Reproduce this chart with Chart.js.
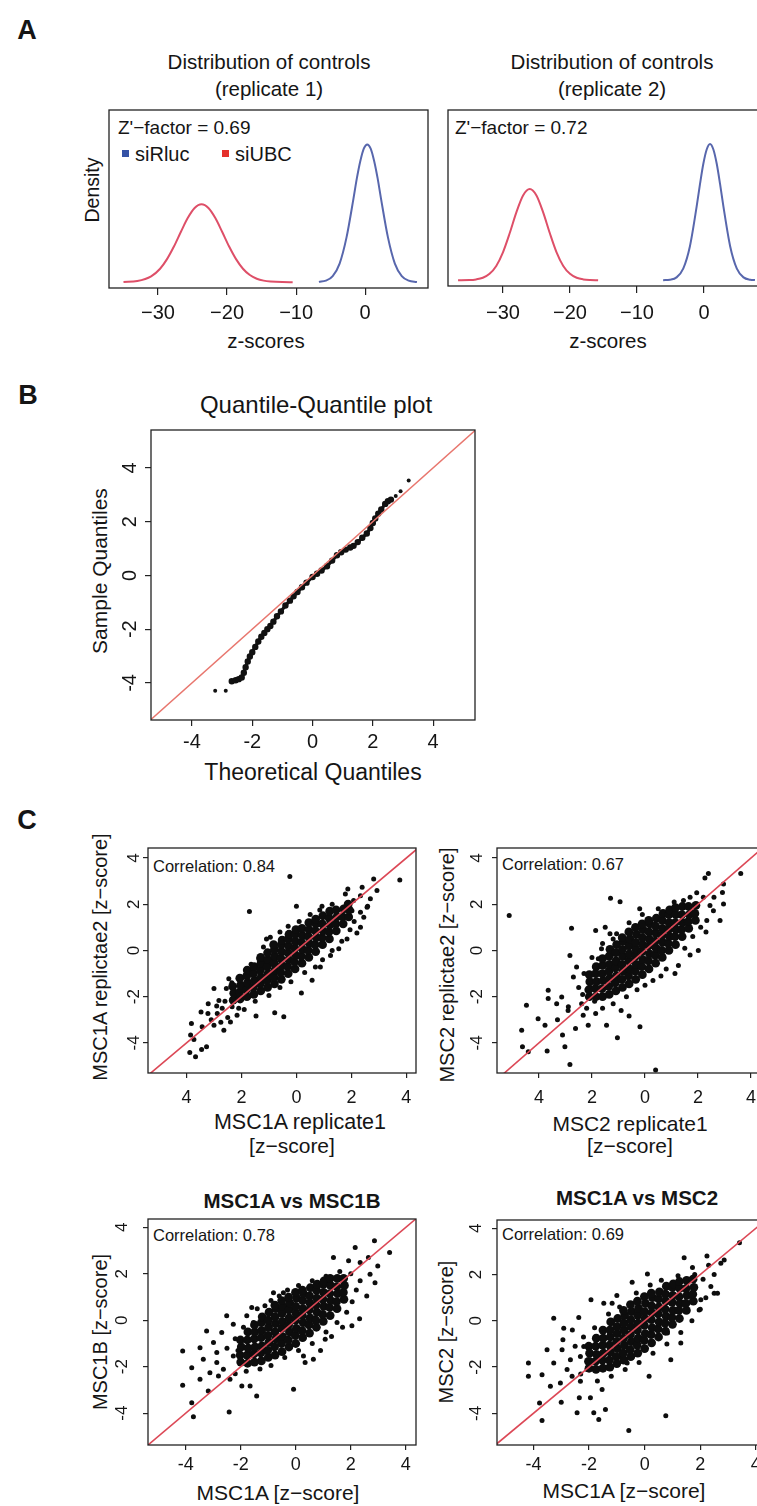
<!DOCTYPE html>
<html>
<head>
<meta charset="utf-8">
<script src="https://cdn.jsdelivr.net/npm/chart.js@4.4.1/dist/chart.umd.min.js"></script>
<style>
html, body { margin: 0; padding: 0; background: #fff; }
body { width: 757px; height: 1506px; position: relative; overflow: hidden;
       font-family: "Liberation Sans", Arial, Helvetica, sans-serif; color: #151515; }
canvas { position: absolute; }
.t { position: absolute; white-space: nowrap; line-height: 1; transform: translate(-50%, -50%); }
.l { position: absolute; white-space: nowrap; line-height: 1; transform: translateY(-50%); }
.v { position: absolute; white-space: nowrap; line-height: 1; transform: translate(-50%, -50%) rotate(-90deg); }
.b { font-weight: bold; }
.sq { position: absolute; width: 7px; height: 7px; }
</style>
</head>
<body>

<!-- panel letters, titles and axis labels -->
<div class="t b" style="left:27px;top:30px;font-size:27px">A</div>
<div class="t" style="left:269px;top:62px;font-size:20.5px">Distribution of controls</div>
<div class="t" style="left:269px;top:89px;font-size:20.5px">(replicate 1)</div>
<div class="t" style="left:612px;top:62px;font-size:20.5px">Distribution of controls</div>
<div class="t" style="left:612px;top:89px;font-size:20.5px">(replicate 2)</div>
<div class="v" style="left:93px;top:190px;font-size:19.5px">Density</div>
<div class="l" style="left:118px;top:127px;font-size:19px">Z'&minus;factor = 0.69</div>
<div class="sq" style="left:122px;top:150px;background:#3552a6"></div>
<div class="l" style="left:135px;top:154px;font-size:20px">siRluc</div>
<div class="sq" style="left:222px;top:150px;background:#e5302c"></div>
<div class="l" style="left:235px;top:154px;font-size:20px">siUBC</div>
<div class="l" style="left:455px;top:127px;font-size:19px">Z'&minus;factor = 0.72</div>
<div class="t" style="left:266px;top:341px;font-size:20.5px">z-scores</div>
<div class="t" style="left:608px;top:341px;font-size:20.5px">z-scores</div>

<div class="t b" style="left:28px;top:395px;font-size:27px">B</div>
<div class="t" style="left:316px;top:405px;font-size:24px">Quantile-Quantile plot</div>
<div class="t" style="left:313px;top:772px;font-size:23px">Theoretical Quantiles</div>
<div class="v" style="left:99px;top:571px;font-size:21px">Sample Quantiles</div>

<div class="t b" style="left:27px;top:820px;font-size:27px">C</div>
<div class="l" style="left:153px;top:866px;font-size:16.5px">Correlation: 0.84</div>
<div class="l" style="left:502px;top:864px;font-size:16.5px">Correlation: 0.67</div>
<div class="l" style="left:153px;top:1235px;font-size:16.5px">Correlation: 0.78</div>
<div class="l" style="left:502px;top:1234px;font-size:16.5px">Correlation: 0.69</div>
<div class="t" style="left:300px;top:1123px;font-size:21.5px">MSC1A replicate1</div>
<div class="t" style="left:292px;top:1145px;font-size:21px">[z&minus;score]</div>
<div class="t" style="left:630px;top:1123px;font-size:21px">MSC2 replicate1</div>
<div class="t" style="left:630px;top:1145px;font-size:21px">[z&minus;score]</div>
<div class="t b" style="left:292px;top:1201px;font-size:20.5px">MSC1A vs MSC1B</div>
<div class="t b" style="left:637px;top:1198px;font-size:20.5px">MSC1A vs MSC2</div>
<div class="t" style="left:278px;top:1492px;font-size:21px">MSC1A [z&minus;score]</div>
<div class="t" style="left:624px;top:1490px;font-size:21px">MSC1A [z&minus;score]</div>
<div class="v" style="left:100px;top:957px;font-size:20px">MSC1A replictae2 [z&minus;score]</div>
<div class="v" style="left:447px;top:965px;font-size:20px">MSC2 replictae2 [z&minus;score]</div>
<div class="v" style="left:100px;top:1332px;font-size:20px">MSC1B [z&minus;score]</div>
<div class="v" style="left:446px;top:1332px;font-size:20px">MSC2 [z&minus;score]</div>

<canvas id="a1"></canvas>
<canvas id="a2"></canvas>
<canvas id="qq"></canvas>
<canvas id="c1"></canvas>
<canvas id="c2"></canvas>
<canvas id="c3"></canvas>
<canvas id="c4"></canvas>

<script>
// ===== Data =====

// A: tick labels
const zTicks = [-30, -20, -10, 0];
const qTicks = [-4, -2, 0, 2, 4];

// A: density of controls, replicate 1
const rep1UbcX = [-35, -33, -31, -29.7, -28.7, -27.7, -26.7, -25.7, -24.7, -23.7, -22.7, -21.7, -20.7, -19.7, -18.7, -17.7, -16.7, -15.7, -14.7, -13.7, -12, -10.5];
const rep1UbcY = [0.0002, 0.0016, 0.0084, 0.0195, 0.0334, 0.0517, 0.0728, 0.093, 0.1076, 0.113, 0.1076, 0.093, 0.0728, 0.0517, 0.0334, 0.0195, 0.0103, 0.005, 0.0022, 0.0009, 0.0001, 0];
const rep1RlucX = [-6.7, -5.7, -4.7, -3.7, -2.7, -1.7, -1.2, -0.7, -0.2, 0.3, 0.8, 1.3, 1.8, 2.3, 3.3, 4.3, 5.3, 6.3, 7.5];
const rep1RlucY = [0.0004, 0.0022, 0.0088, 0.027, 0.065, 0.121, 0.151, 0.176, 0.194, 0.2, 0.194, 0.176, 0.151, 0.121, 0.065, 0.027, 0.0088, 0.0022, 0.0003];

// A: density of controls, replicate 2
const rep2UbcX = [-36.7, -35, -34, -33, -32, -31, -30, -29, -28, -27, -26, -25, -24, -23, -22, -21, -20, -19, -18, -17, -15.8];
const rep2UbcY = [0.0001, 0.0003, 0.0012, 0.0036, 0.0094, 0.021, 0.041, 0.0689, 0.0997, 0.1245, 0.134, 0.1245, 0.0997, 0.0689, 0.041, 0.021, 0.0094, 0.0036, 0.0012, 0.0003, 0];
const rep2RlucX = [-6.1, -5.1, -4.1, -3.1, -2.1, -1.1, -0.6, -0.1, 0.4, 0.9, 1.4, 1.9, 2.4, 2.9, 3.9, 4.9, 5.9, 6.9, 7.6];
const rep2RlucY = [0.0001, 0.0008, 0.0042, 0.017, 0.05, 0.108, 0.141, 0.171, 0.192, 0.2, 0.192, 0.171, 0.141, 0.108, 0.05, 0.017, 0.0042, 0.0008, 0.0002];

// B: Q-Q plot (theoretical, sample)
const qqBand = [[-2.68,-3.94],[-2.55,-3.9],[-2.45,-3.86],[-2.35,-3.8],[-2.28,-3.62],[-2.22,-3.42],[-2.15,-3.2],[-2.08,-3.02],[-2.0,-2.86],[-1.9,-2.66],[-1.8,-2.46],[-1.7,-2.28],[-1.6,-2.14],[-1.5,-2.0],[-1.4,-1.88],[-1.3,-1.72],[-1.18,-1.52],[-1.05,-1.34],[-0.9,-1.12],[-0.75,-0.94],[-0.63,-0.78],[-0.5,-0.62],[-0.35,-0.44],[-0.2,-0.27],[0.0,-0.06],[0.15,0.06],[0.3,0.18],[0.48,0.34],[0.65,0.55],[0.81,0.75],[0.95,0.86],[1.1,0.96],[1.25,1.04],[1.36,1.1],[1.5,1.24],[1.65,1.4],[1.8,1.56],[1.92,1.76],[2.0,1.95],[2.08,2.12],[2.18,2.3],[2.28,2.45],[2.41,2.66],[2.5,2.76],[2.6,2.82]];
const qqTails = [[-3.23,-4.29],[-2.88,-4.29],[2.76,2.95],[2.92,3.13],[3.19,3.53]];

// identity line y = x
const diag = [[-6,-6],[6,6]];

// C1: MSC1A replicate1 vs replicate2 (dense core / scattered)
const c1Core = [[-2.3,-2.15],[-2.28,-1.85],[-2.32,-1.55],[-2.05,-2.1],[-2.07,-1.8],[-2.03,-1.5],[-2.06,-1.2],[-1.8,-2.0],[-1.82,-1.7],[-1.78,-1.4],[-1.81,-1.1],[-1.79,-0.85],[-1.55,-1.9],[-1.57,-1.6],[-1.53,-1.3],[-1.56,-1.0],[-1.54,-0.7],[-1.3,-1.75],[-1.32,-1.45],[-1.28,-1.15],[-1.31,-0.85],[-1.29,-0.55],[-1.3,-0.3],[-1.05,-1.6],[-1.07,-1.3],[-1.03,-1.0],[-1.06,-0.7],[-1.04,-0.4],[-1.05,-0.1],[-0.8,-1.45],[-0.82,-1.15],[-0.78,-0.85],[-0.81,-0.55],[-0.79,-0.25],[-0.8,0.05],[-0.83,0.25],[-0.55,-1.25],[-0.57,-0.95],[-0.53,-0.65],[-0.56,-0.35],[-0.54,-0.05],[-0.55,0.25],[-0.52,0.45],[-0.3,-1.0],[-0.32,-0.7],[-0.28,-0.4],[-0.31,-0.1],[-0.29,0.2],[-0.3,0.5],[-0.27,0.7],[-0.05,-0.8],[-0.07,-0.5],[-0.03,-0.2],[-0.06,0.1],[-0.04,0.4],[-0.05,0.7],[-0.02,0.9],[0.2,-0.55],[0.18,-0.25],[0.22,0.05],[0.19,0.35],[0.21,0.65],[0.2,0.95],[0.45,-0.3],[0.43,0.0],[0.47,0.3],[0.44,0.6],[0.46,0.9],[0.45,1.2],[0.7,-0.05],[0.68,0.25],[0.72,0.55],[0.69,0.85],[0.71,1.15],[0.7,1.35],[0.95,0.25],[0.93,0.55],[0.97,0.85],[0.94,1.15],[0.96,1.5],[1.2,0.5],[1.18,0.8],[1.22,1.1],[1.19,1.4],[1.21,1.7],[1.45,0.85],[1.43,1.15],[1.47,1.45],[1.44,1.75],[1.7,1.15],[1.68,1.45],[1.72,1.8],[1.9,1.45],[1.92,1.75],[1.88,2.0]];
const c1Spread = [[-0.24,3.2],[-1.71,1.68],[0,1.91],[0.93,1.91],[3.76,3.05],[2.81,3.09],[1.87,2.66],[2.39,2.73],[2.93,2.59],[2.59,1.91],[2.2,0.75],[1.84,0.5],[0.18,-1.84],[-0.79,-2.69],[-0.46,-2.87],[-1.47,-2.83],[-2.46,-1.22],[-3.0,-1.65],[-3.21,-2.3],[-3.82,-3.16],[-3.85,-3.66],[-3.73,-3.85],[-3.88,-4.41],[-3.67,-4.6],[-3.45,-4.28],[-3.27,-4.17],[-3.47,-2.66],[-3.22,-2.73],[-2.88,-2.73],[-2.82,-2.16],[-3.43,-3.3],[-3.0,-3.23],[-2.64,-3.45],[-2.4,-3.09],[-2.16,-2.8],[-2.34,-2.44],[-2.04,-2.16],[-1.09,0.5],[-0.95,0.57],[-1.37,-0.36],[-1.79,-1.29],[-1.92,-1.58],[1.24,-0.22],[1.54,0.07],[0.87,-0.72],[0.69,-0.72],[0.57,-1.29],[2.45,1.44],[2.33,1.0],[2.02,1.72],[2.69,2.23],[2.08,2.16],[2.33,2.37],[2.33,1.65],[2.57,1.87],[1.78,2.44],[-1.65,-0.6],[-1.2,0.15],[-0.6,0.8],[-0.3,1.05],[0.1,1.25],[0.5,1.55],[0.85,1.75],[1.3,2.0],[-2.55,-1.65],[-2.35,-1.4],[-2.7,-2.5],[-2.5,-2.9],[-1.9,-2.55],[-1.5,-2.2],[-1.0,-1.95],[-0.6,-1.6],[-0.2,-1.35],[0.3,-0.95],[0.95,-0.4],[1.3,0.0],[1.65,0.4],[1.95,0.9],[2.1,1.25],[-2.1,-2.5],[-2.6,-2.2],[-2.9,-2.4],[-3.1,-3.0],[-2.75,-3.1],[-2.2,-2.0]];

// C2: MSC2 replicate1 vs replicate2
const c2Core = [[-2.1,-2.0],[-2.12,-1.7],[-2.08,-1.35],[-2.1,-1.05],[-1.85,-2.0],[-1.87,-1.65],[-1.83,-1.35],[-1.86,-1.0],[-1.84,-0.7],[-1.6,-2.0],[-1.62,-1.65],[-1.58,-1.3],[-1.61,-1.0],[-1.59,-0.65],[-1.6,-0.35],[-1.35,-1.9],[-1.37,-1.55],[-1.33,-1.2],[-1.36,-0.9],[-1.34,-0.6],[-1.35,-0.25],[-1.32,0.05],[-1.1,-1.75],[-1.12,-1.4],[-1.08,-1.1],[-1.11,-0.75],[-1.09,-0.45],[-1.1,-0.1],[-1.07,0.25],[-0.85,-1.6],[-0.87,-1.25],[-0.83,-0.9],[-0.86,-0.6],[-0.84,-0.25],[-0.85,0.05],[-0.82,0.4],[-0.86,0.55],[-0.6,-1.45],[-0.62,-1.1],[-0.58,-0.8],[-0.61,-0.45],[-0.59,-0.15],[-0.6,0.2],[-0.57,0.5],[-0.61,0.8],[-0.35,-1.25],[-0.37,-0.9],[-0.33,-0.6],[-0.36,-0.25],[-0.34,0.05],[-0.35,0.35],[-0.32,0.7],[-0.36,1.0],[-0.1,-1.05],[-0.12,-0.7],[-0.08,-0.4],[-0.11,-0.05],[-0.09,0.25],[-0.1,0.55],[-0.07,0.9],[-0.11,1.15],[0.15,-0.8],[0.13,-0.45],[0.17,-0.15],[0.14,0.2],[0.16,0.5],[0.15,0.8],[0.18,1.15],[0.14,1.3],[0.4,-0.55],[0.38,-0.2],[0.42,0.1],[0.39,0.4],[0.41,0.75],[0.4,1.05],[0.43,1.4],[0.65,-0.3],[0.63,0.0],[0.67,0.35],[0.64,0.65],[0.66,0.95],[0.65,1.3],[0.68,1.6],[0.9,0.0],[0.88,0.3],[0.92,0.6],[0.89,0.9],[0.91,1.2],[0.9,1.55],[0.93,1.75],[1.15,0.25],[1.13,0.6],[1.17,0.9],[1.14,1.2],[1.16,1.55],[1.15,1.85],[1.4,0.6],[1.38,0.9],[1.42,1.2],[1.39,1.55],[1.41,1.9],[1.65,0.95],[1.63,1.25],[1.67,1.55],[1.64,1.9],[1.9,1.3],[1.88,1.6],[1.92,1.95]];
const c2Spread = [[-5.12,1.51],[-2.77,0.96],[-1.86,0.86],[-1.3,2.26],[-0.94,2.11],[2.39,3.33],[2.26,3.13],[3.61,3.33],[2.96,2.87],[2.92,2.51],[2.96,2.01],[2.83,1.29],[2.58,1.72],[2.45,1.94],[2.33,1.29],[2.01,0.0],[1.13,-1.0],[1.26,-0.65],[-2.83,-0.22],[-2.58,-0.72],[-2.7,-1.15],[-3.65,-1.72],[-3.65,-2.08],[-4.47,-2.37],[-4.03,-2.95],[-4.65,-3.45],[-3.77,-3.23],[-4.62,-4.17],[-4.4,-4.38],[-3.69,-4.35],[-3.11,-3.66],[-3.02,-4.17],[-2.83,-4.93],[-2.62,-3.38],[-2.14,-3.23],[-1.86,-2.73],[-1.45,-3.23],[-1.04,-3.78],[-0.6,-2.83],[-0.19,-3.3],[0.4,-5.17],[-3.33,-2.3],[-3.14,-2.01],[-2.89,-2.44],[-2.39,-2.3],[-2.33,-2.8],[-2.08,-1.58],[-1.82,-1.29],[-1.64,0.07],[-1.32,0.72],[-1.07,0.72],[-1.76,-0.36],[1.45,2.16],[1.7,2.3],[-2.35,-1.9],[-2.5,-1.6],[-2.2,-2.5],[-1.6,-2.5],[-1.2,-2.3],[-0.7,-2.0],[-0.3,-1.7],[0.3,-1.3],[0.8,-0.8],[1.5,0.1],[1.8,0.6],[2.1,1.0],[2.2,2.3],[1.95,2.5],[1.1,2.1],[0.5,1.8],[-0.1,1.55],[-0.6,1.2],[-1.2,0.5],[-1.6,0.3],[-2.0,-0.3],[-2.3,-1.0],[-1.9,-2.2],[-0.9,-2.6],[0.0,-1.5],[0.6,-1.1],[1.7,-0.2],[2.3,0.8],[2.6,2.3],[-0.2,1.8],[-1.5,1.0],[-2.9,-2.6],[-3.3,-3.0]];

// C3: MSC1A vs MSC1B
const c3Core = [[-2.0,-1.8],[-2.02,-1.5],[-1.98,-1.15],[-2.01,-0.85],[-1.75,-1.85],[-1.77,-1.5],[-1.73,-1.2],[-1.76,-0.85],[-1.74,-0.5],[-1.5,-1.8],[-1.52,-1.45],[-1.48,-1.15],[-1.51,-0.8],[-1.49,-0.5],[-1.5,-0.2],[-1.25,-1.75],[-1.27,-1.4],[-1.23,-1.1],[-1.26,-0.75],[-1.24,-0.45],[-1.25,-0.1],[-1.22,0.15],[-1.0,-1.6],[-1.02,-1.3],[-0.98,-0.95],[-1.01,-0.65],[-0.99,-0.3],[-1.0,0.0],[-0.97,0.35],[-0.75,-1.5],[-0.77,-1.15],[-0.73,-0.8],[-0.76,-0.5],[-0.74,-0.15],[-0.75,0.15],[-0.72,0.5],[-0.76,0.65],[-0.5,-1.35],[-0.52,-1.0],[-0.48,-0.7],[-0.51,-0.35],[-0.49,-0.05],[-0.5,0.3],[-0.47,0.6],[-0.51,0.85],[-0.25,-1.15],[-0.27,-0.85],[-0.23,-0.5],[-0.26,-0.2],[-0.24,0.1],[-0.25,0.45],[-0.22,0.75],[-0.26,1.0],[0.0,-1.0],[-0.02,-0.65],[0.02,-0.35],[-0.01,0.0],[0.01,0.3],[0.0,0.6],[0.03,0.95],[-0.01,1.2],[0.25,-0.75],[0.23,-0.45],[0.27,-0.1],[0.24,0.2],[0.26,0.5],[0.25,0.85],[0.28,1.15],[0.24,1.3],[0.5,-0.55],[0.48,-0.2],[0.52,0.1],[0.49,0.45],[0.51,0.75],[0.5,1.05],[0.53,1.4],[0.75,-0.3],[0.73,0.0],[0.77,0.35],[0.74,0.65],[0.76,0.95],[0.75,1.3],[0.78,1.55],[1.0,-0.05],[0.98,0.25],[1.02,0.6],[0.99,0.9],[1.01,1.2],[1.0,1.55],[1.03,1.7],[1.25,0.2],[1.23,0.55],[1.27,0.85],[1.24,1.15],[1.26,1.5],[1.25,1.8],[1.5,0.5],[1.48,0.8],[1.52,1.15],[1.49,1.45],[1.51,1.8],[1.75,0.9],[1.73,1.2],[1.77,1.5],[1.74,1.8]];
const c3Spread = [[2.86,3.42],[3.41,2.92],[2.16,3.13],[1.37,2.7],[1.92,2.56],[2.34,2.49],[2.64,2.7],[2.98,2.34],[2.7,1.98],[2.88,1.62],[2.58,1.05],[2.34,1.7],[2.04,-0.24],[2.32,0.07],[1.07,-0.82],[0.64,-1.68],[0.34,-1.82],[-0.08,-2.97],[-1.42,-3.26],[-2.42,-3.95],[-3.72,-4.15],[-3.78,-3.55],[-4.11,-2.8],[-4.11,-1.32],[-3.78,-2.04],[-3.48,-1.18],[-3.24,-0.46],[-3.36,-1.68],[-3.12,-2.26],[-3.48,-2.54],[-3.18,-3.05],[-2.81,-2.4],[-2.69,-0.53],[-2.51,0.19],[-2.27,-0.17],[-2.27,-1.54],[-2.02,-1.82],[-1.96,-2.83],[-1.66,-2.83],[-1.12,0.62],[-0.81,1.19],[-0.45,1.19],[0.28,-1.54],[-2.87,-1.82],[-2.63,-2.11],[-2.39,-2.54],[-2.99,-0.96],[-2.87,-1.39],[-1.78,0.19],[-1.54,-0.1],[-2.2,-2.3],[-1.8,-2.2],[-1.3,-2.1],[-0.9,-1.95],[-0.4,-1.6],[0.1,-1.3],[0.6,-1.0],[1.1,-0.5],[1.5,-0.1],[1.85,0.35],[2.05,0.8],[2.2,1.3],[2.0,2.0],[1.6,2.1],[1.1,1.9],[0.6,1.7],[0.1,1.5],[-0.3,1.3],[-0.9,0.85],[-1.4,0.5],[-1.9,-0.3],[-2.2,-0.8],[-2.5,-1.2],[-2.1,-1.3],[-1.6,0.55],[-0.6,1.05],[1.7,-0.3],[1.3,-0.7],[0.9,-1.3]];

// C4: MSC1A vs MSC2
const c4Core = [[-2.0,-2.05],[-2.02,-1.75],[-1.98,-1.4],[-2.01,-1.1],[-1.75,-2.1],[-1.77,-1.75],[-1.73,-1.45],[-1.76,-1.1],[-1.74,-0.75],[-1.5,-2.05],[-1.52,-1.7],[-1.48,-1.4],[-1.51,-1.05],[-1.49,-0.75],[-1.5,-0.4],[-1.25,-2.0],[-1.27,-1.7],[-1.23,-1.35],[-1.26,-1.05],[-1.24,-0.7],[-1.25,-0.4],[-1.22,-0.05],[-1.0,-1.85],[-1.02,-1.55],[-0.98,-1.2],[-1.01,-0.9],[-0.99,-0.55],[-1.0,-0.25],[-0.97,0.1],[-0.75,-1.7],[-0.77,-1.4],[-0.73,-1.05],[-0.76,-0.75],[-0.74,-0.4],[-0.75,-0.1],[-0.72,0.25],[-0.76,0.45],[-0.5,-1.55],[-0.52,-1.25],[-0.48,-0.9],[-0.51,-0.6],[-0.49,-0.25],[-0.5,0.05],[-0.47,0.4],[-0.51,0.7],[-0.25,-1.4],[-0.27,-1.05],[-0.23,-0.75],[-0.26,-0.4],[-0.24,-0.1],[-0.25,0.25],[-0.22,0.55],[-0.26,0.85],[0.0,-1.2],[-0.02,-0.85],[0.02,-0.55],[-0.01,-0.2],[0.01,0.1],[0.0,0.4],[0.03,0.75],[-0.01,1.05],[0.25,-0.95],[0.23,-0.6],[0.27,-0.3],[0.24,0.05],[0.26,0.35],[0.25,0.65],[0.28,1.0],[0.24,1.2],[0.5,-0.7],[0.48,-0.35],[0.52,-0.05],[0.49,0.3],[0.51,0.6],[0.5,0.95],[0.53,1.25],[0.75,-0.45],[0.73,-0.1],[0.77,0.2],[0.74,0.5],[0.76,0.85],[0.75,1.15],[0.78,1.5],[1.0,-0.15],[0.98,0.15],[1.02,0.45],[0.99,0.8],[1.01,1.1],[1.0,1.45],[1.03,1.6],[1.25,0.1],[1.23,0.45],[1.27,0.75],[1.24,1.05],[1.26,1.4],[1.25,1.7],[1.5,0.45],[1.48,0.75],[1.52,1.1],[1.49,1.4],[1.51,1.75],[1.75,0.85],[1.73,1.15],[1.77,1.45],[1.74,1.8]];
const c4Spread = [[3.41,3.38],[2.24,2.8],[2.74,2.49],[2.86,2.63],[1.42,2.73],[1.72,2.31],[0.1,2.03],[-0.45,1.67],[-1.17,0.76],[-1.47,0.76],[-1.93,0.91],[-2.37,0.14],[-3.27,0.11],[-2.94,-0.82],[-2.97,-1.25],[-3.51,-1.25],[-4.18,-1.82],[-4.18,-2.4],[-3.69,-2.33],[-3.39,-2.83],[-3.03,-2.69],[-2.61,-2.4],[-2.31,-2.61],[-3.78,-3.55],[-3.69,-4.31],[-3.0,-3.52],[-2.35,-3.33],[-2.43,-3.98],[-1.95,-3.33],[-1.83,-3.98],[-1.65,-4.27],[-1.41,-3.84],[-1.53,-2.97],[-0.57,-4.74],[0.76,-4.1],[0.94,-1.68],[0.16,-2.4],[-0.63,-1.82],[-0.87,-1.54],[2.02,0.91],[2.5,1.19],[2.62,1.19],[2.38,1.48],[1.96,0.47],[1.3,-0.96],[0.82,-0.53],[-2.19,-1.11],[-1.95,-1.68],[-2.07,-2.11],[-2.67,-1.68],[-3.27,-1.82],[-2.79,-2.11],[-2.31,-1.54],[-1.71,-1.11],[-2.91,-0.32],[-2.3,-2.3],[-1.7,-2.6],[-1.2,-2.4],[-0.7,-2.1],[-0.2,-1.8],[0.3,-1.4],[0.8,-1.0],[1.3,-0.5],[1.7,0.0],[2.0,0.5],[2.2,1.0],[2.1,1.8],[1.8,2.0],[1.2,1.95],[0.6,1.75],[0.2,1.55],[-0.3,1.2],[-0.9,0.6],[-1.3,0.3],[-1.8,-0.3],[-2.2,-0.7],[-2.5,-1.1],[-1.0,1.1],[2.5,2.0],[2.3,2.4],[-2.6,-0.4]];

// ===== Helpers =====
const FONT = '"Liberation Sans", Arial, Helvetica, sans-serif';
const INK = '#151515';
const xy = p => ({x: p[0], y: p[1]});
const zip = (xs, ys) => xs.map((x, i) => ({x, y: ys[i]}));
const minusFmt = v => (v < 0 ? '\u2212' + (-v) : String(v));

// box around the plot region, like R's box()
const framePlugin = {
    id: 'frame',
    afterDraw(chart) {
        const a = chart.chartArea, ctx = chart.ctx;
        ctx.save();
        ctx.strokeStyle = '#222';
        ctx.lineWidth = 1.3;
        ctx.strokeRect(a.left, a.top, a.right - a.left, a.bottom - a.top);
        ctx.restore();
    }
};

// f = plot frame [left, top, right, bottom] in page pixels
function makePlot(id, f, o) {
    const padL = o.padL, padT = 24, padR = 24, padB = o.padB;
    const cv = document.getElementById(id);
    const w = f[2] - f[0] + padL + padR, h = f[3] - f[1] + padT + padB;
    cv.width = w; cv.height = h;
    cv.style.width = w + 'px'; cv.style.height = h + 'px';
    cv.style.left = (f[0] - padL) + 'px'; cv.style.top = (f[1] - padT) + 'px';

    const tickGrid = {display: true, drawOnChartArea: false, drawTicks: true, tickLength: o.tl, color: '#222', lineWidth: 1.2};
    const yScale = o.yTicks ? {
        type: 'linear', min: o.yr[0], max: o.yr[1],
        afterBuildTicks: s => { s.ticks = o.yTicks.map(v => ({value: v})); },
        afterFit: s => { s.width = padL; },
        border: {display: false},
        grid: tickGrid,
        ticks: {font: {size: o.yf, family: FONT}, color: INK, padding: o.ypad,
                minRotation: 90, maxRotation: 90, crossAlign: 'center', autoSkip: false,
                callback: v => String(v)}
    } : {type: 'linear', display: false, min: o.yr[0], max: o.yr[1]};

    return new Chart(cv, {
        type: 'scatter',
        data: {datasets: o.datasets},
        options: {
            responsive: false,
            animation: false,
            devicePixelRatio: 1,
            events: [],
            layout: {padding: {top: padT, right: padR, left: o.yTicks ? 0 : padL, bottom: 0}},
            plugins: {legend: {display: false}, tooltip: {enabled: false}},
            scales: {
                x: {
                    type: 'linear', min: o.xr[0], max: o.xr[1],
                    afterBuildTicks: s => { s.ticks = o.xTicks.map(v => ({value: v})); },
                    afterFit: s => { s.height = padB; },
                    border: {display: false},
                    grid: tickGrid,
                    ticks: {font: {size: o.xf, family: FONT}, color: INK, padding: o.xpad,
                            maxRotation: 0, autoSkip: false, callback: o.xfmt || (v => String(v))}
                },
                y: yScale
            }
        },
        plugins: [framePlugin]
    });
}

function curve(xs, ys, color) {
    return {data: zip(xs, ys), showLine: true, borderColor: color, borderWidth: 2,
            pointRadius: 0, cubicInterpolationMode: 'monotone'};
}

function scatterSets(core, spread) {
    return [
        {data: diag.map(xy), showLine: true, borderColor: '#dc4856', borderWidth: 1.6, pointRadius: 0, order: 0, clip: 0},
        {data: core.map(xy), pointRadius: 4.4, backgroundColor: '#0d0d0d', borderWidth: 0, order: 1},
        {data: spread.map(xy), pointRadius: 2.5, backgroundColor: '#0d0d0d', borderWidth: 0, order: 1}
    ];
}

const RED = '#de4f68', BLUE = '#5867ad';

// ===== A: distribution of controls =====
makePlot('a1', [109, 110, 428, 288], {
    padL: 10, padB: 60, tl: 7, xf: 20, xpad: 6,
    xr: [-37.1, 9.1], yr: [-0.0085, 0.25], xTicks: zTicks, xfmt: minusFmt,
    datasets: [curve(rep1UbcX, rep1UbcY, RED), curve(rep1RlucX, rep1RlucY, BLUE)]
});
makePlot('a2', [448, 110, 767, 286], {
    padL: 10, padB: 60, tl: 7, xf: 20, xpad: 8,
    xr: [-38.2, 9.4], yr: [-0.0085, 0.25], xTicks: zTicks, xfmt: minusFmt,
    datasets: [curve(rep2UbcX, rep2UbcY, RED), curve(rep2RlucX, rep2RlucY, BLUE)]
});

// ===== B: Q-Q plot =====
makePlot('qq', [151, 430, 475, 720], {
    padL: 80, padB: 70, tl: 6, xf: 20, xpad: 4, yf: 20, ypad: 6,
    xr: [-5.36, 5.39], yr: [-5.38, 5.41], xTicks: qTicks, yTicks: qTicks,
    datasets: [
        {data: diag.map(xy), showLine: true, borderColor: '#e8766e', borderWidth: 1.5, pointRadius: 0, order: 0, clip: 0},
        {data: qqBand.map(xy), showLine: true, borderColor: '#111', borderWidth: 3.2, pointRadius: 1.6, backgroundColor: '#111', order: 1},
        {data: qqTails.map(xy), pointRadius: 2, backgroundColor: '#111', borderWidth: 0, order: 1}
    ]
});

// ===== C: replicate correlations =====
const absFmt = v => String(Math.abs(v));
makePlot('c1', [148, 848, 416, 1073], {
    padL: 70, padB: 60, tl: 5, xf: 18, xpad: 9, yf: 17, ypad: 1,
    xr: [-5.4, 4.35], yr: [-5.3, 4.43], xTicks: qTicks, yTicks: qTicks, xfmt: absFmt,
    datasets: scatterSets(c1Core, c1Spread)
});
makePlot('c2', [497, 848, 767, 1073], {
    padL: 70, padB: 60, tl: 5, xf: 18, xpad: 9, yf: 17, ypad: 7,
    xr: [-5.58, 4.6], yr: [-5.3, 4.43], xTicks: qTicks, yTicks: qTicks, xfmt: absFmt,
    datasets: scatterSets(c2Core, c2Spread)
});
makePlot('c3', [148, 1219, 416, 1445], {
    padL: 70, padB: 60, tl: 5, xf: 18, xpad: 4, yf: 17, ypad: 13,
    xr: [-5.37, 4.37], yr: [-5.37, 4.36], xTicks: qTicks, yTicks: qTicks,
    datasets: scatterSets(c3Core, c3Spread)
});
makePlot('c4', [497, 1220, 767, 1445], {
    padL: 70, padB: 60, tl: 5, xf: 18, xpad: 4, yf: 17, ypad: 8,
    xr: [-5.31, 4.4], yr: [-5.37, 4.36], xTicks: qTicks, yTicks: qTicks,
    datasets: scatterSets(c4Core, c4Spread)
});
</script>
</body>
</html>
